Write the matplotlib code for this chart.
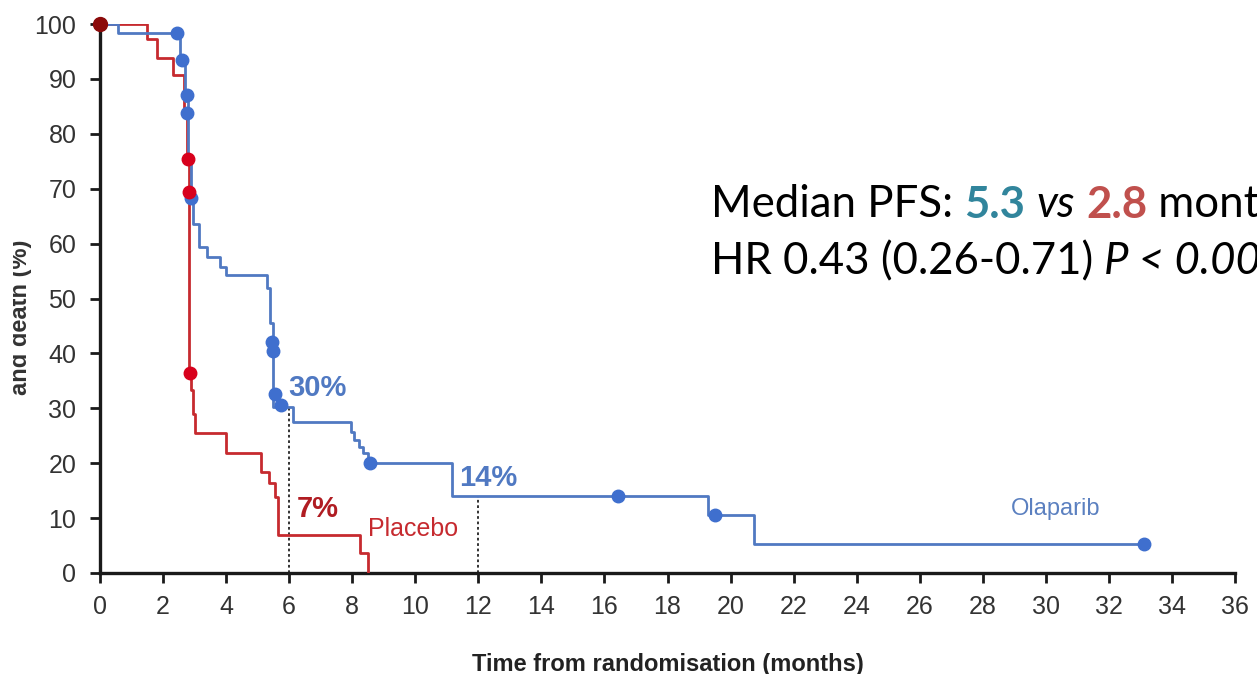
import matplotlib
matplotlib.use('Agg')
import matplotlib.pyplot as plt
from matplotlib.transforms import Bbox

# Kaplan-Meier curves (months, % free of progression/death)
olaparib_t = [0, 0.57, 2.55, 2.7, 2.78, 2.88, 2.95, 3.15, 3.4, 3.8, 4.0, 5.3, 5.4, 5.5,
              6.12, 7.95, 8.05, 8.2, 8.35, 8.5, 11.15, 19.3, 20.73, 33.1]
olaparib_s = [100, 98.3, 93.4, 86, 76, 68.3, 63.5, 59.4, 57.6, 55.7, 54.3, 52, 45.5, 30.2,
              27.5, 25.7, 24.2, 23, 21.9, 20, 14, 10.6, 5.3, 5.3]
olaparib_cens_t = [2.44, 2.6, 2.76, 2.76, 2.88, 5.45, 5.5, 5.55, 5.75, 8.57, 16.44, 19.5, 33.1]
olaparib_cens_s = [98.4, 93.4, 87, 83.8, 68.3, 42, 40.4, 32.6, 30.6, 20, 14, 10.6, 5.3]

placebo_t = [0, 1.5, 1.8, 2.3, 2.65, 2.75, 2.83, 2.9, 2.95, 3.0, 4.0, 5.1, 5.35, 5.55, 5.65, 8.25, 8.5]
placebo_s = [100, 97.2, 93.8, 90.7, 83, 76, 36.4, 33.3, 29, 25.5, 21.9, 18.4, 16.4, 13.8, 7, 3.6, 0]
placebo_cens_t = [2.8, 2.82, 2.86]
placebo_cens_s = [75.5, 69.4, 36.4]

landmark_t = [6, 12]
landmark_s = [30, 14]

x_ticks = list(range(0, 37, 2))
y_ticks = list(range(0, 101, 10))

blue = '#5079c2'
red = '#c62a2f'
arial = ['Liberation Sans', 'DejaVu Sans']

fig = plt.figure(figsize=(12.57, 6.74), dpi=100)
ax = fig.add_axes([100/1257, 101/674, 1135/1257, 549/674])

ax.step(placebo_t, placebo_s, where='post', color=red, lw=2, zorder=3)
ax.step(olaparib_t, olaparib_s, where='post', color=blue, lw=2, zorder=3)
ax.plot(olaparib_cens_t, olaparib_cens_s, 'o', color='#3f6fce', ms=9, zorder=4, clip_on=False)
ax.plot(placebo_cens_t, placebo_cens_s, 'o', color='#d8001c', ms=9, zorder=5, clip_on=False)
ax.plot([0], [100], 'o', color='#8b0a0a', ms=10, zorder=6, clip_on=False)

for t, s in zip(landmark_t, landmark_s):
    ax.vlines(t, 0, s, colors='#222222', linestyles=(0, (1.5, 1.5)), lw=1.3, zorder=2)

ax.set_xlim(0, 36)
ax.set_ylim(0, 100)
ax.set_xticks(x_ticks)
ax.set_yticks(y_ticks)
for side in ['top', 'right']:
    ax.spines[side].set_visible(False)
for side in ['left', 'bottom']:
    ax.spines[side].set_linewidth(2.4)
    ax.spines[side].set_color('#1a1a1a')
ax.tick_params(length=7, width=2, color='#1a1a1a', labelcolor='#333333')
ax.tick_params(axis='y', pad=10)
ax.tick_params(axis='x', pad=9)
for lab in ax.get_xticklabels() + ax.get_yticklabels():
    lab.set_family(arial)
    lab.set_fontsize(18)

ax.set_xlabel('Time from randomisation (months)', family=arial, fontsize=17,
              fontweight='bold', color='#222222', labelpad=24)

# y label is cut off in the source picture, only its end is visible
ylab = fig.text(32/1257, 1 - 317/674, 'and death (%)', rotation=90, ha='right', va='center',
                family=arial, fontsize=17, fontweight='bold', color='#333333')
ylab.set_clip_box(Bbox.from_extents(13, 0, 200, 674))
ylab.set_clip_on(True)

ax.text(6.9, 33.7, '30%', color=blue, family=arial, fontsize=21, fontweight='bold',
        ha='center', va='center')
ax.text(12.3, 17.3, '14%', color=blue, family=arial, fontsize=21, fontweight='bold',
        ha='center', va='center')
ax.text(6.9, 11.6, '7%', color='#b01c22', family=arial, fontsize=21, fontweight='bold',
        ha='center', va='center')
ax.text(8.5, 8.1, 'Placebo', color=red, family=arial, fontsize=18, ha='left', va='center')
ax.text(30.3, 11.6, 'Olaparib', color='#5b80c0', family=arial, fontsize=17, ha='center', va='center')


# mixed style annotation, chained piece by piece on a common baseline
# (it runs past the right edge in the source picture as well)
def chain(pieces, x, y):
    prev = None
    for txt, col, style, weight in pieces:
        kw = dict(color=col, fontstyle=style, fontweight=weight, family=['Lato', 'DejaVu Sans'],
                  fontsize=31.5, ha='left')
        if prev is None:
            prev = fig.text(x, y, txt, va='baseline', **kw)
        else:
            prev = ax.annotate(txt, xy=(1, 0), xycoords=prev, va='bottom', **kw)


chain([('Median PFS: ', 'black', 'normal', 'normal'),
       ('5.3', '#31859c', 'normal', 'bold'),
       (' ', 'black', 'normal', 'normal'),
       ('vs', 'black', 'italic', 'normal'),
       (' ', 'black', 'normal', 'normal'),
       ('2.8', '#c0504d', 'normal', 'bold'),
       (' months', 'black', 'normal', 'normal')], 711/1257, 1 - 217/674)
chain([('HR 0.43 (0.26-0.71) ', 'black', 'normal', 'normal'),
       ('P < 0.001', 'black', 'italic', 'normal')], 711/1257, 1 - 274/674)

fig.savefig('out.png', dpi=100)
